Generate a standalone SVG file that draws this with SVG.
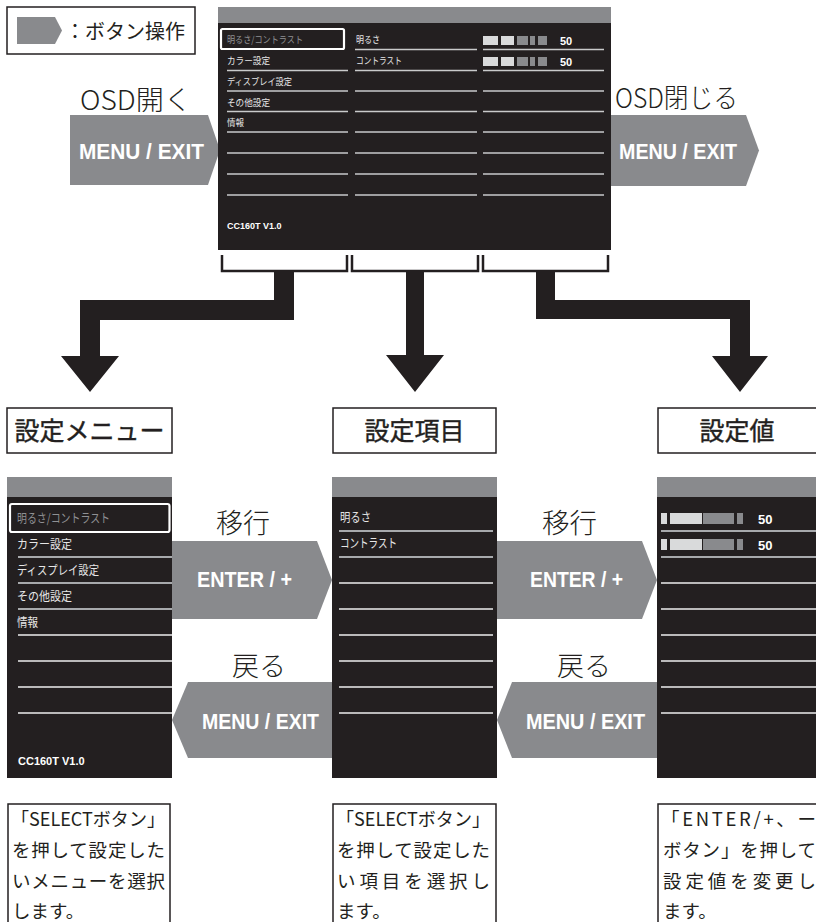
<svg xmlns="http://www.w3.org/2000/svg" width="816" height="922" viewBox="0 0 816 922">
<style>
.bg{fill:#fff}
.scr{fill:#231f20}
.hdr{fill:#898a8d}
.btn{fill:#898a8d}
.big{fill:#231f20}
.box{fill:#fff;stroke:#231f20;stroke-width:1.5}
.ln{stroke:#c9cacb;stroke-width:1.5}
.lng{stroke:#a7a9ac;stroke-width:2}
.lnw{stroke:#eeeeee;stroke-width:1.5}
.sel{fill:none;stroke:#fff;stroke-width:2.2}
.jp{font-family:"Noto Sans CJK JP","Noto Sans",sans-serif}
.st{font-size:9.5px;fill:#e6e6e6}
.sb{font-size:12.5px;fill:#e6e6e6}
.dim{fill:#8f9093}
.num{font-family:"Liberation Sans",Arial,sans-serif;font-weight:bold;fill:#fff}
.bt{font-family:"Liberation Sans",Arial,sans-serif;font-weight:bold;fill:#fff;font-size:22px}
.lbl{font-family:"Noto Sans CJK JP",sans-serif;font-weight:300;fill:#231f20;font-size:27px}
.ttl{font-family:"Noto Sans CJK JP",sans-serif;font-weight:400;fill:#231f20;font-size:25px;text-anchor:middle;stroke:#231f20;stroke-width:0.4}
.desc{font-family:"Noto Sans CJK JP",sans-serif;fill:#231f20;font-size:18.5px}
.lt{fill:#d9dadb}
.dk{fill:#898a8d}
.brk{fill:none;stroke:#231f20;stroke-width:2.5}
</style>
<rect class="bg" x="0" y="0" width="816" height="922"/>

<g id="legend">
<rect class="box" x="7" y="7" width="188" height="47"/>
<polygon class="btn" points="17,17 55,17 62,30.5 55,44 17,44"/>
<text class="jp" x="65" y="39" font-size="20" fill="#231f20">：ボタン操作</text>
</g>

<g id="connectors">
<path class="brk" d="M222,255V271H347V255"/>
<path class="brk" d="M352,255V271H478V255"/>
<path class="brk" d="M483,255V271H608V255"/>
<polygon class="big" points="274,270 294,270 294,320 100,320 100,356 119,356 90,392 61,356 80,356 80,300 274,300"/>
<polygon class="big" points="406,270 424,270 424,355 444,355 415,392 386,355 406,355"/>
<polygon class="big" points="536,270 555,270 555,300 750,300 750,356 768,356 740,392 712,356 730,356 730,319 536,319"/>
</g>

<g id="open-osd">
<text class="lbl" x="80" y="110" textLength="112" lengthAdjust="spacingAndGlyphs">OSD開く</text>
<polygon class="btn" points="70,115 208,115 220,150 208,185 70,185"/>
<text class="bt" x="79" y="159" textLength="125" lengthAdjust="spacingAndGlyphs">MENU / EXIT</text>
</g>

<g id="close-osd">
<text class="lbl" x="615" y="108" textLength="123" lengthAdjust="spacingAndGlyphs">OSD閉じる</text>
<polygon class="btn" points="611,115 746,115 759,150.5 746,186 611,186"/>
<text class="bt" x="619" y="159" textLength="118" lengthAdjust="spacingAndGlyphs">MENU / EXIT</text>
</g>

<g id="osd-top">
<rect class="scr" x="218" y="7" width="393" height="243"/>
<rect class="hdr" x="218" y="7" width="393" height="16"/>
<rect class="sel" x="221" y="29" width="123" height="20" rx="1.5"/>
<g class="ln">
<line x1="227" y1="70.5" x2="348" y2="70.5"/><line x1="227" y1="91" x2="348" y2="91"/><line x1="227" y1="111.5" x2="348" y2="111.5"/><line x1="227" y1="132" x2="348" y2="132"/><line x1="227" y1="153" x2="348" y2="153"/><line x1="227" y1="174" x2="348" y2="174"/><line x1="227" y1="195" x2="348" y2="195"/>
<line x1="355" y1="49.5" x2="477" y2="49.5"/><line x1="355" y1="70.5" x2="477" y2="70.5"/><line x1="355" y1="91" x2="477" y2="91"/><line x1="355" y1="111.5" x2="477" y2="111.5"/><line x1="355" y1="132" x2="477" y2="132"/><line x1="355" y1="153" x2="477" y2="153"/><line x1="355" y1="174" x2="477" y2="174"/><line x1="355" y1="195" x2="477" y2="195"/>
<line x1="483" y1="49.5" x2="604" y2="49.5"/><line x1="483" y1="70.5" x2="604" y2="70.5"/><line x1="483" y1="91" x2="604" y2="91"/><line x1="483" y1="111.5" x2="604" y2="111.5"/><line x1="483" y1="132" x2="604" y2="132"/><line x1="483" y1="153" x2="604" y2="153"/><line x1="483" y1="174" x2="604" y2="174"/><line x1="483" y1="195" x2="604" y2="195"/>
</g>
<text class="jp st dim" x="227" y="43" textLength="76" lengthAdjust="spacingAndGlyphs">明るさ/コントラスト</text>
<text class="jp st" x="227" y="64" textLength="43" lengthAdjust="spacingAndGlyphs">カラー設定</text>
<text class="jp st" x="227" y="85" textLength="65" lengthAdjust="spacingAndGlyphs">ディスプレイ設定</text>
<text class="jp st" x="227" y="105.5" textLength="43" lengthAdjust="spacingAndGlyphs">その他設定</text>
<text class="jp st" x="227" y="126" textLength="17" lengthAdjust="spacingAndGlyphs">情報</text>
<text class="jp st" x="356" y="43" textLength="24" lengthAdjust="spacingAndGlyphs">明るさ</text>
<text class="jp st" x="356" y="64" textLength="46" lengthAdjust="spacingAndGlyphs">コントラスト</text>
<rect class="lt" x="483" y="36" width="15" height="9"/><rect class="lt" x="501" y="36" width="13" height="9"/><rect class="dk" x="517" y="36" width="11" height="9"/><rect class="dk" x="530" y="36" width="5" height="9"/><rect class="dk" x="538" y="36" width="9" height="9"/>
<rect class="lt" x="483" y="57" width="15" height="9"/><rect class="lt" x="501" y="57" width="13" height="9"/><rect class="dk" x="517" y="57" width="11" height="9"/><rect class="dk" x="530" y="57" width="5" height="9"/><rect class="dk" x="538" y="57" width="9" height="9"/>
<text class="num" x="560" y="45" font-size="11">50</text>
<text class="num" x="560" y="66" font-size="11">50</text>
<text class="num" x="227" y="229" font-size="9">CC160T V1.0</text>
</g>

<g id="title-menu">
<rect class="box" x="7" y="408" width="165" height="45"/>
<text class="ttl" x="89.5" y="440">設定メニュー</text>
</g>
<g id="title-item">
<rect class="box" x="333" y="408" width="163" height="45"/>
<text class="ttl" x="414.5" y="440">設定項目</text>
</g>
<g id="title-value">
<rect class="box" x="658" y="408" width="165" height="45"/>
<text class="ttl" x="737" y="440">設定値</text>
</g>

<g id="osd-menu">
<rect class="scr" x="7" y="477" width="165" height="301"/>
<rect class="hdr" x="7" y="477" width="165" height="20"/>
<rect class="sel" x="10" y="504" width="159.5" height="28" rx="2"/>
<line class="lng" x1="18" y1="557" x2="172" y2="557"/><line class="lng" x1="18" y1="583" x2="172" y2="583"/><line class="lng" x1="18" y1="609" x2="172" y2="609"/>
<line class="lnw" x1="18" y1="635" x2="172" y2="635"/><line class="lnw" x1="18" y1="661" x2="172" y2="661"/><line class="lnw" x1="18" y1="687" x2="172" y2="687"/><line class="lnw" x1="18" y1="713" x2="172" y2="713"/>
<text class="jp sb dim" x="17" y="523" textLength="93" lengthAdjust="spacingAndGlyphs">明るさ/コントラスト</text>
<text class="jp sb" x="17" y="549" textLength="55" lengthAdjust="spacingAndGlyphs">カラー設定</text>
<text class="jp sb" x="17" y="575" textLength="82" lengthAdjust="spacingAndGlyphs">ディスプレイ設定</text>
<text class="jp sb" x="17" y="601" textLength="55" lengthAdjust="spacingAndGlyphs">その他設定</text>
<text class="jp sb" x="17" y="627" textLength="21" lengthAdjust="spacingAndGlyphs">情報</text>
<text class="num" x="18" y="765" font-size="11">CC160T V1.0</text>
</g>

<g id="enter-1">
<text class="lbl" x="216" y="533" textLength="54" lengthAdjust="spacingAndGlyphs">移行</text>
<polygon class="btn" points="172,541 317,541 332,580 317,619 172,619"/>
<text class="bt" x="197" y="587" font-size="21" textLength="95" lengthAdjust="spacingAndGlyphs">ENTER / +</text>
</g>
<g id="back-1">
<text class="lbl" x="232" y="676" textLength="54" lengthAdjust="spacingAndGlyphs">戻る</text>
<polygon class="btn" points="332,682 188,682 172,720 188,758 332,758"/>
<text class="bt" x="202" y="729" font-size="21" textLength="117" lengthAdjust="spacingAndGlyphs">MENU / EXIT</text>
</g>

<g id="osd-item">
<rect class="scr" x="332" y="477" width="165" height="301"/>
<rect class="hdr" x="332" y="477" width="165" height="20"/>
<line class="lng" x1="339" y1="531" x2="493" y2="531"/><line class="lng" x1="339" y1="557" x2="493" y2="557"/>
<line class="lnw" x1="339" y1="583" x2="493" y2="583"/><line class="lnw" x1="339" y1="609" x2="493" y2="609"/><line class="lnw" x1="339" y1="635" x2="493" y2="635"/><line class="lnw" x1="339" y1="661" x2="493" y2="661"/><line class="lnw" x1="339" y1="687" x2="493" y2="687"/><line class="lnw" x1="339" y1="713" x2="493" y2="713"/>
<text class="jp sb" x="340" y="522" textLength="31" lengthAdjust="spacingAndGlyphs">明るさ</text>
<text class="jp sb" x="340" y="548" textLength="57" lengthAdjust="spacingAndGlyphs">コントラスト</text>
</g>

<g id="enter-2">
<text class="lbl" x="542" y="533" textLength="55" lengthAdjust="spacingAndGlyphs">移行</text>
<polygon class="btn" points="497,541 642,541 657,580 642,619 497,619"/>
<text class="bt" x="530" y="587" font-size="21" textLength="93" lengthAdjust="spacingAndGlyphs">ENTER / +</text>
</g>
<g id="back-2">
<text class="lbl" x="557" y="676" textLength="54" lengthAdjust="spacingAndGlyphs">戻る</text>
<polygon class="btn" points="657,682 512,682 497,720 512,758 657,758"/>
<text class="bt" x="526" y="729" font-size="21" textLength="119" lengthAdjust="spacingAndGlyphs">MENU / EXIT</text>
</g>

<g id="osd-value">
<rect class="scr" x="657" y="477" width="165" height="301"/>
<rect class="hdr" x="657" y="477" width="165" height="20"/>
<line class="lng" x1="661" y1="531" x2="816" y2="531"/><line class="lng" x1="661" y1="557" x2="816" y2="557"/>
<line class="lnw" x1="661" y1="583" x2="816" y2="583"/><line class="lnw" x1="661" y1="609" x2="816" y2="609"/><line class="lnw" x1="661" y1="635" x2="816" y2="635"/><line class="lnw" x1="661" y1="661" x2="816" y2="661"/><line class="lnw" x1="661" y1="687" x2="816" y2="687"/><line class="lnw" x1="661" y1="713" x2="816" y2="713"/>
<rect class="lt" x="661" y="513" width="6" height="11"/><rect class="lt" x="670" y="513" width="32" height="11"/><rect class="dk" x="703" y="513" width="31" height="11"/><rect class="dk" x="737" y="513" width="6" height="11"/>
<rect class="lt" x="661" y="539" width="6" height="11"/><rect class="lt" x="670" y="539" width="32" height="11"/><rect class="dk" x="703" y="539" width="31" height="11"/><rect class="dk" x="737" y="539" width="6" height="11"/>
<text class="num" x="758" y="524" font-size="13">50</text>
<text class="num" x="758" y="550" font-size="13">50</text>
</g>

<g id="desc-menu">
<rect class="box" x="8" y="804" width="162" height="130"/>
<text class="desc" x="11" y="826" textLength="154" lengthAdjust="spacingAndGlyphs">「SELECTボタン」</text>
<text class="desc" x="12" y="857" textLength="153" lengthAdjust="spacing">を押して設定した</text>
<text class="desc" x="12" y="888" textLength="153" lengthAdjust="spacing">いメニューを選択</text>
<text class="desc" x="12" y="918">します。</text>
</g>
<g id="desc-item">
<rect class="box" x="333" y="804" width="163" height="130"/>
<text class="desc" x="336" y="826" textLength="154" lengthAdjust="spacingAndGlyphs">「SELECTボタン」</text>
<text class="desc" x="337" y="857" textLength="153" lengthAdjust="spacing">を押して設定した</text>
<text class="desc" x="337" y="888" textLength="153" lengthAdjust="spacing">い項目を選択し</text>
<text class="desc" x="337" y="918">ます。</text>
</g>
<g id="desc-value">
<rect class="box" x="658" y="804" width="165" height="130"/>
<text class="desc" x="661" y="826" textLength="155" lengthAdjust="spacing">「ENTER/+、ー</text>
<text class="desc" x="663" y="857" textLength="153" lengthAdjust="spacing">ボタン」を押して</text>
<text class="desc" x="663" y="888" textLength="153" lengthAdjust="spacing">設定値を変更し</text>
<text class="desc" x="663" y="918">ます。</text>
</g>
</svg>
